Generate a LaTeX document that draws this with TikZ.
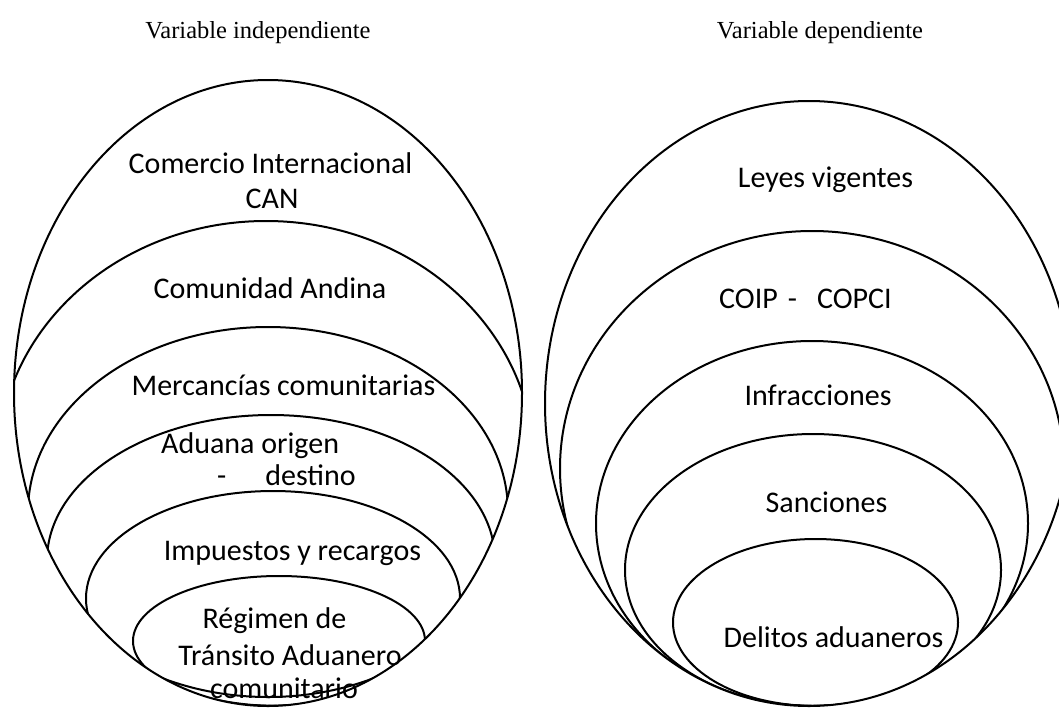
\documentclass[tikz,border=0pt]{standalone}
\usepackage{fontspec}
\setmainfont{Liberation Serif}
\newfontfamily\calfont{Carlito}
\begin{document}
\begin{tikzpicture}[x=1pt,y=-1pt,
  ring/.style={line width=2pt,draw=black},
  lbl/.style={inner sep=0pt,font=\calfont\fontsize{30}{35}\selectfont},
  ttl/.style={inner sep=0pt,font=\fontsize{24.5}{29}\selectfont}]
\useasboundingbox[fill=white] (0,0) rectangle (1059,709);
% titles
\node[ttl,anchor=base] (t1) at (258,38) {Variable independiente};
\node[ttl,anchor=base] (t2) at (820,38) {Variable dependiente};
% left group
\draw[ring] (268,393) ellipse [x radius=254pt,y radius=313pt];
\begin{scope}
  \clip (268,393) ellipse [x radius=254pt,y radius=313pt];
  \draw[ring] (266,463.5) ellipse [x radius=268pt,y radius=242.5pt];
  \draw[ring] (268,512) ellipse [x radius=240pt,y radius=185pt];
  \draw[ring] (271,560.5) ellipse [x radius=224pt,y radius=145.5pt];
  \draw[ring] (273,598.5) ellipse [x radius=187pt,y radius=107.5pt];
  \draw[ring] (279,641) ellipse [x radius=146pt,y radius=65pt];
\end{scope}
% right group
\draw[ring] (809,403.5) ellipse [x radius=264pt,y radius=302.5pt];
\begin{scope}
  \clip (809,403.5) ellipse [x radius=264pt,y radius=302.5pt];
  \draw[ring] (812,468.5) ellipse [x radius=252pt,y radius=237.5pt];
  \draw[ring] (812,523.5) ellipse [x radius=216pt,y radius=182.5pt];
  \draw[ring] (813,570) ellipse [x radius=188pt,y radius=136pt];
  \draw[ring] (815.5,622.5) ellipse [x radius=142.5pt,y radius=83.5pt];
\end{scope}
% left labels
\node[lbl,anchor=base] (l1a) at (270.5,173) {Comercio Internacional};
\node[lbl,anchor=base] (l1b) at (272,208) {CAN};
\node[lbl,anchor=base] (l2) at (270,298) {Comunidad Andina};
\node[lbl,anchor=base] (l3) at (283.5,395) {Mercancías comunitarias};
\node[lbl,anchor=base west] (l4a) at (161,453) {Aduana origen};
\node[lbl,anchor=base west] (l4b) at (217,485) {-\hspace{39pt}destino};
\node[lbl,anchor=base] (l5) at (292.5,560) {Impuestos y recargos};
\node[lbl,anchor=base] (l6a) at (274.5,628) {Régimen de};
\node[lbl,anchor=base] (l6b) at (290,665) {Tránsito Aduanero};
\node[lbl,anchor=base] (l6c) at (284,698) {comunitario};
% right labels
\node[lbl,anchor=base] (r1) at (825.5,187) {Leyes vigentes};
\node[lbl,anchor=base west] (r2) at (719,308) {COIP\hspace{10pt}-\hspace{20pt}COPCI};
\node[lbl,anchor=base] (r3) at (818,405) {Infracciones};
\node[lbl,anchor=base] (r4) at (826.5,512) {Sanciones};
\node[lbl,anchor=base] (r5) at (833.5,647) {Delitos aduaneros};
\end{tikzpicture}
\end{document}
